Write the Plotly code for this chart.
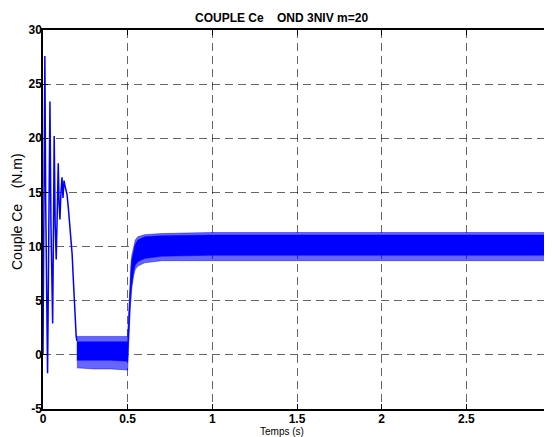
import plotly.graph_objects as go

# --- transient part (s, N.m) ---
t_tr = [0.000, 0.004, 0.011, 0.016, 0.027, 0.033, 0.041, 0.047, 0.057, 0.062,
        0.066, 0.072, 0.078, 0.084, 0.090, 0.095, 0.100, 0.106, 0.112, 0.118,
        0.124, 0.130, 0.136, 0.142, 0.150, 0.158, 0.165, 0.172, 0.179, 0.185,
        0.190, 0.196, 0.200]
ce_tr = [0.0, 10.0, 27.6, 14.0, -1.7, 9.0, 23.4, 12.0, 2.9, 12.0,
         20.2, 12.0, 8.8, 13.0, 17.7, 14.0, 12.5, 15.0, 16.4, 14.5,
         16.1, 15.6, 15.2, 14.8, 13.5, 12.0, 10.8, 9.3, 7.0, 4.8,
         3.0, 1.7, 1.3]

# --- oscillation band envelopes (outer = peaks, core = dense part) ---
t_env   = [0.200, 0.300, 0.400, 0.500, 0.505, 0.510, 0.515, 0.520, 0.525, 0.535,
           0.545, 0.560, 0.600, 0.700, 1.000, 1.500, 2.000, 2.500, 3.000]
env_hi  = [1.7, 1.7, 1.7, 1.7, 3.5, 5.5, 7.5, 8.5, 9.2, 10.0,
           10.6, 10.9, 11.1, 11.2, 11.3, 11.3, 11.3, 11.3, 11.3]
env_lo  = [-1.2, -1.3, -1.3, -1.4, 0.3, 2.5, 4.2, 5.5, 6.3, 7.3,
           7.9, 8.2, 8.5, 8.7, 8.7, 8.7, 8.7, 8.7, 8.7]
core_hi = [1.2, 1.2, 1.2, 1.2, 3.0, 5.0, 7.0, 8.0, 8.8, 9.6,
           10.2, 10.6, 10.9, 11.0, 11.07, 11.07, 11.07, 11.07, 11.07]
core_lo = [-0.5, -0.5, -0.5, -0.6, 0.8, 3.0, 4.6, 5.9, 6.7, 7.7,
           8.3, 8.6, 8.9, 9.1, 9.2, 9.2, 9.2, 9.2, 9.2]

x_ticks = [0, 0.5, 1, 1.5, 2, 2.5, 3]
x_labels = ["0", "0.5", "1", "1.5", "2", "2.5", "3"]
y_ticks = [-5, 0, 5, 10, 15, 20, 25, 30]
y_labels = ["-5", "0", "5", "10", "15", "20", "25", "30"]

BLUE = "#0000FF"
OFF = 8                      # page body margin of the html page
W, H = 552 - OFF, 437 - OFF  # figure size so that it fits the window
L, T = 43 - OFF, 30 - OFF    # plot area origin (page 43, 30)
PW, PH = 508, 379
R, B = W - L - PW, H - T - PH

fig = go.Figure()

fig.add_trace(go.Scatter(
    x=t_env + t_env[::-1], y=env_hi + env_lo[::-1],
    fill="toself", fillcolor="rgba(0,0,255,0.6)",
    line=dict(color="rgba(0,0,255,0.6)", width=0.8),
    mode="lines", hoverinfo="skip", showlegend=False))
fig.add_trace(go.Scatter(
    x=t_env + t_env[::-1], y=core_hi + core_lo[::-1],
    fill="toself", fillcolor=BLUE,
    line=dict(color=BLUE, width=0.5),
    mode="lines", hoverinfo="skip", showlegend=False))
fig.add_trace(go.Scatter(
    x=t_tr, y=ce_tr, mode="lines",
    line=dict(color=BLUE, width=1.5), showlegend=False))

font = "Liberation Sans, Arial, sans-serif"
axis_common = dict(
    showline=True, linecolor="black", linewidth=1.5, mirror="ticks",
    ticks="inside", ticklen=5, tickcolor="black",
    showgrid=True, gridcolor="rgba(0,0,0,0.6)", gridwidth=1,
    griddash="8px,5px", zeroline=False, automargin=False,
    tickfont=dict(family=font, size=12, color="black", weight="bold"),
)

def px_x(p):  # page pixel -> paper x
    return (p - OFF - L) / PW

def px_y(p):  # page pixel -> paper y
    return (T + PH - (p - OFF)) / PH

fig.update_layout(
    width=W, height=H,
    margin=dict(l=L, r=R, t=T, b=B, autoexpand=False),
    paper_bgcolor="white", plot_bgcolor="white",
    xaxis=dict(range=[0, 3], tickvals=x_ticks, ticktext=x_labels,
               ticklabelstandoff=-2, **axis_common),
    yaxis=dict(range=[-5, 30], tickvals=y_ticks, ticktext=y_labels,
               ticklabelstandoff=-3, **axis_common),
    annotations=[
        dict(text="<b>COUPLE Ce\u00a0\u00a0\u00a0\u00a0OND 3NIV m=20</b>",
             xref="paper", yref="paper", x=px_x(281), y=px_y(17.5),
             xanchor="center", yanchor="middle", showarrow=False,
             font=dict(family=font, size=12, color="black")),
        dict(text="Temps (s)",
             xref="paper", yref="paper", x=px_x(282), y=px_y(431),
             xanchor="center", yanchor="middle", showarrow=False,
             font=dict(family=font, size=10, color="black")),
        dict(text="Couple Ce\u00a0\u00a0\u00a0\u00a0(N.m)", textangle=-90,
             xref="paper", yref="paper", x=px_x(17), y=px_y(212),
             xanchor="center", yanchor="middle", showarrow=False,
             font=dict(family=font, size=14, color="black")),
        # last x tick label, partly cut by the page edge as in the reference
        dict(text="<b>" + x_labels[-1] + "</b>",
             xref="x", yref="paper", x=x_ticks[-1], y=px_y(418),
             xanchor="center", yanchor="middle", showarrow=False,
             font=dict(family=font, size=12, color="black")),
    ],
)

fig.write_html("out.html")
